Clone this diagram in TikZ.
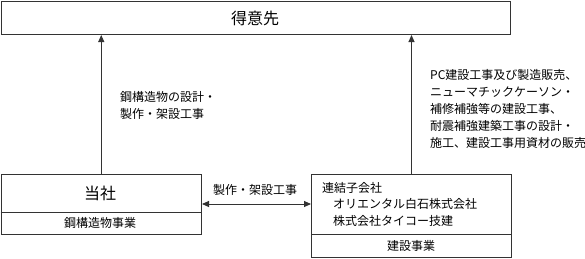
\documentclass[tikz,border=0pt]{standalone}
\usepackage{fontspec}
\setmainfont{Noto Sans CJK JP}
\usetikzlibrary{arrows.meta}
\begin{document}
\begin{tikzpicture}[x=1pt,y=-1pt,
  frame/.style={draw=linegray, line width=1pt, inner sep=0pt, anchor=north west},
  conn/.style={draw=linegray, line width=0.9pt, -{Triangle[length=7pt,width=6pt]}},
  conn2/.style={draw=linegray, line width=0.9pt, {Triangle[length=7pt,width=6pt]}-{Triangle[length=7pt,width=6pt]}},
  big/.style={font=\fontsize{16}{18}\selectfont},
  txt/.style={font=\fontsize{12}{14}\selectfont, inner sep=0pt},
  ]
\definecolor{linegray}{HTML}{333333}
\useasboundingbox (0,0) rectangle (585,258);
% boxes
\node[frame, minimum width=509.5pt, minimum height=33.5pt] (top) at (0.5,0.5) {};
\node[big] at (255,18) {得意先};
\node[frame, minimum width=200.5pt, minimum height=60pt] (tosha) at (0.5,174) {};
\node[frame, minimum width=200pt, minimum height=83pt] (group) at (311,174) {};
% dividers
\coordinate (tl) at (0.5,212);
\coordinate (gl) at (311,234);
\draw[linegray, line width=1pt] (tl) -- (tl -| tosha.east);
\draw[linegray, line width=1pt] (gl) -- (gl -| group.east);
% box texts
\node[big] at (100,193) {当社};
\node[txt] at (100,223) {鋼構造物事業};
\node[txt, anchor=west] at (322,188) {連結子会社};
\node[txt, anchor=west] at (333,204) {オリエンタル白石株式会社};
\node[txt, anchor=west] at (333,221) {株式会社タイコー技建};
\node[txt] at (411,246) {建設事業};
% connectors
\draw[conn] (tosha.north) -- (tosha.north |- top.south);
\draw[conn] (group.north) -- (group.north |- top.south);
\coordinate (mid) at (0,204);
\draw[conn2] (mid -| tosha.east) -- (mid -| group.west);
% connector labels
\node[txt, anchor=west] at (120,97) {鋼構造物の設計・};
\node[txt, anchor=west] at (120,114) {製作・架設工事};
\node[txt] at (255,190) {製作・架設工事};
\node[txt, anchor=west] at (430,75) {PC建設工事及び製造販売、};
\node[txt, anchor=west] at (430,92) {ニューマチックケーソン・};
\node[txt, anchor=west] at (430,109) {補修補強等の建設工事、};
\node[txt, anchor=west] at (430,126) {耐震補強建築工事の設計・};
\node[txt, anchor=west] at (430,143) {施工、建設工事用資材の販売};
\end{tikzpicture}
\end{document}
